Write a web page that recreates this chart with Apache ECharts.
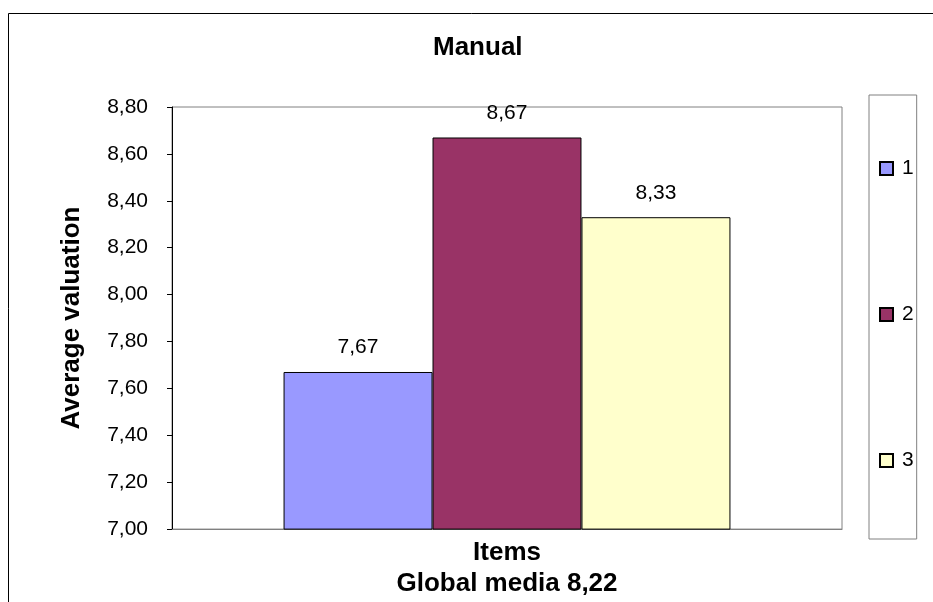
<!DOCTYPE html>
<html>
<head>
<meta charset="utf-8">
<script src="https://cdn.jsdelivr.net/npm/echarts@6/dist/echarts.min.js"></script>
<style>
  html, body { margin: 0; padding: 0; background: #fff; }
  #chart { width: 933px; height: 602px; }
</style>
</head>
<body>
<div id="chart"></div>
<script>
// Average valuation per item group
const categories = ['Items'];
const seriesNames = ['1', '2', '3'];
const values1 = [7.67];
const values2 = [8.67];
const values3 = [8.33];
const seriesColors = ['#9999FF', '#993366', '#FFFFCC'];
const yTicks = { min: 7.0, max: 8.8, step: 0.2 };

const FONT = '"Liberation Sans", Arial, sans-serif';
const comma = (v, d) => Number(v).toFixed(d).replace('.', ',');

const allValues = [values1, values2, values3];
const series = seriesNames.map((name, i) => ({
  name: name,
  type: 'bar',
  data: allValues[i],
  barGap: '0%',
  barCategoryGap: '33.3%',
  itemStyle: { color: seriesColors[i], borderColor: '#000', borderWidth: 1 },
  label: {
    show: true,
    position: 'top',
    distance: 14,
    color: '#000',
    fontFamily: FONT,
    fontSize: 21,
    formatter: p => comma(p.value, 2)
  }
}));

const chart = echarts.init(document.getElementById('chart'));
chart.setOption({
  animation: false,
  backgroundColor: '#fff',
  title: {
    text: 'Manual',
    left: 433,
    top: 35,
    padding: 0,
    textStyle: { fontFamily: FONT, fontSize: 26, fontWeight: 'bold', color: '#000' }
  },
  graphic: [{
    type: 'rect',
    shape: { x: 8.5, y: 13.5, width: 1000, height: 1000 },
    style: { fill: null, stroke: '#000', lineWidth: 1 },
    silent: true,
    z: -1
  }],
  legend: {
    orient: 'vertical',
    left: 869,
    top: 95,
    itemWidth: 13,
    itemHeight: 13,
    itemGap: 125,
    padding: [63, 3, 68, 10],
    borderColor: '#808080',
    borderWidth: 1,
    icon: 'rect',
    textStyle: { fontFamily: FONT, fontSize: 21, color: '#000', padding: [0, 0, 0, 4] },
    data: seriesNames
  },
  grid: { left: 172, right: 91, top: 107, bottom: 72, show: true, borderColor: '#808080', borderWidth: 1 },
  xAxis: {
    type: 'category',
    data: categories,
    axisLine: { lineStyle: { color: '#808080', width: 1 } },
    axisTick: { show: false },
    axisLabel: { margin: 11, color: '#000', fontFamily: FONT, fontSize: 26, fontWeight: 'bold' },
    name: 'Global media 8,22',
    nameLocation: 'middle',
    nameGap: 40,
    nameTextStyle: { color: '#000', fontFamily: FONT, fontSize: 26, fontWeight: 'bold' }
  },
  yAxis: {
    type: 'value',
    min: yTicks.min,
    max: yTicks.max,
    interval: yTicks.step,
    splitLine: { show: false },
    axisLine: { show: true, lineStyle: { color: '#000', width: 1 } },
    axisTick: { show: true, length: 5, lineStyle: { color: '#000' } },
    axisLabel: { margin: 24, color: '#000', fontFamily: FONT, fontSize: 21, formatter: v => comma(v, 2) },
    name: 'Average valuation',
    nameLocation: 'middle',
    nameGap: 87,
    nameTextStyle: { color: '#000', fontFamily: FONT, fontSize: 26, fontWeight: 'bold' }
  },
  series: series
});
</script>
</body>
</html>
